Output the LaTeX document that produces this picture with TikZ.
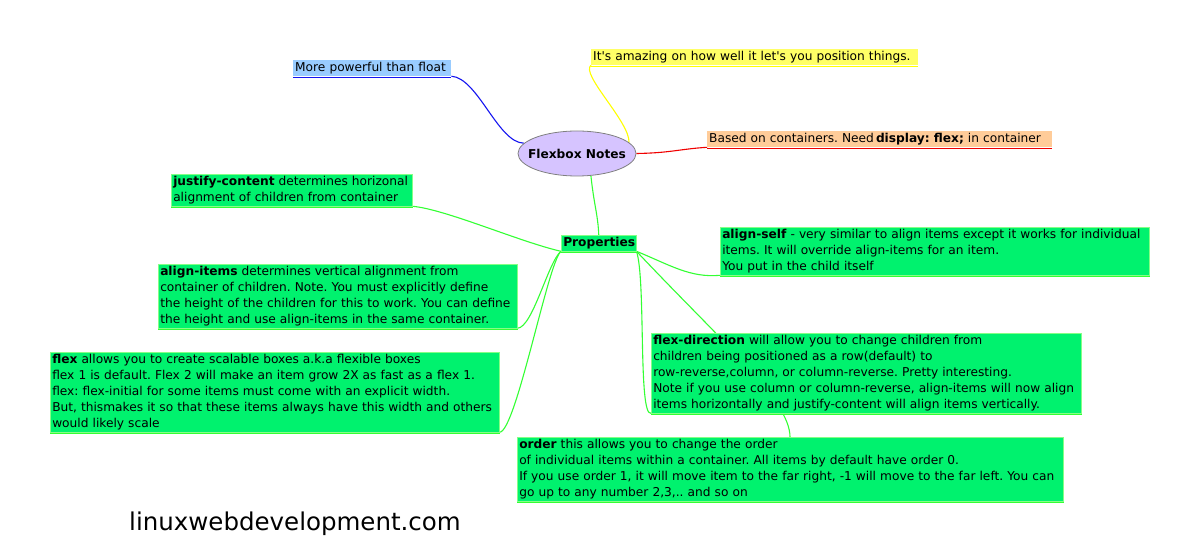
\documentclass[tikz,border=0pt]{standalone}
\usepackage{fontspec}
\setmainfont{DejaVu Sans}
\usetikzlibrary{shapes.geometric,calc}
\pgfdeclarelayer{bg}
\pgfsetlayers{bg,main}
\definecolor{boxgreen}{RGB}{0,242,110}
\definecolor{edgegreen}{RGB}{51,255,51}
\definecolor{floatblue}{RGB}{153,204,255}
\definecolor{linkblue}{RGB}{20,20,240}
\definecolor{amazyellow}{RGB}{255,255,102}
\definecolor{linkyellow}{RGB}{255,255,0}
\definecolor{basedorange}{RGB}{255,204,153}
\definecolor{linkred}{RGB}{240,0,0}
\definecolor{fnpurple}{RGB}{214,196,255}
\tikzset{
  txt/.style={font=\fontsize{12.2}{16}\selectfont\frenchspacing, inner xsep=2pt, inner ysep=2pt,
    anchor=north west, align=left, text width=#1},
  gbox/.style={txt=#1, fill=boxgreen, draw=edgegreen!60!white, line width=0.5pt},
  uline/.style={line width=1.3pt},
  conn/.style={line width=1.1pt},
  gconn/.style={conn, edgegreen},
}
\begin{document}
\begin{tikzpicture}[x=1pt,y=-1pt]
\useasboundingbox (0,0) rectangle (1200,553);

% central
\node[ellipse, fill=fnpurple, draw=gray, line width=0.8pt, minimum width=118pt,
  minimum height=45pt, inner sep=0pt, font=\fontsize{12.2}{16}\selectfont\bfseries] (fn) at (577,153.5) {\makebox[0pt]{Flexbox Notes}};

% top-level leaves
\node[txt=154pt, fill=floatblue] (float) at (293,60) {More powerful than float};
\node[txt=323pt, fill=amazyellow] (amaz) at (591,49) {It\textquotesingle s amazing on how well it let\textquotesingle s you position things.};
\node[txt=341pt, fill=basedorange] (based) at (707,131) {Based on containers. Need\,\textbf{display: flex;} in container};

% properties
\node[gbox=71pt, align=center] (props) at (561,235) {\textbf{Properties}};

% children
\node[gbox=237pt] (just) at (171,174) {\textbf{justify-content} determines horizonal\\alignment of children from container};
\node[gbox=355pt] (aitems) at (158,264) {\textbf{align-items} determines vertical alignment from\\container of children. Note. You must explicitly define\\the height of the children for this to work. You can define\\the height and use align-items in the same container.};
\node[gbox=445pt] (flex) at (50,352) {\textbf{flex} allows you to create scalable boxes a.k.a flexible boxes\\flex 1 is default. Flex 2 will make an item grow 2X as fast as a flex 1.\\flex: flex-initial for some items must come with an explicit width.\\But, thismakes it so that these items always have this width and others\\would likely scale};
\node[gbox=425pt] (aself) at (720,227) {\textbf{align-self} - very similar to align items except it works for individual\\items. It will override align-items for an item.\\You put in the child itself};
\node[gbox=426pt] (fdir) at (651,333) {\textbf{flex-direction} will allow you to change children from\\children being positioned as a row(default) to\\row-reverse,column, or column-reverse. Pretty interesting.\\Note if you use column or column-reverse, align-items will now align\\items horizontally and justify-content will align items vertically.};
\node[gbox=542pt] (order) at (517,437) {\textbf{order} this allows you to change the order\\of individual items within a container. All items by default have order 0.\\If you use order 1, it will move item to the far right, -1 will move to the far left. You can\\go up to any number 2,3,.. and so on};

\coordinate (ordtop) at ($(order.north west)+(273,0)$);

% website
\node[font=\fontsize{24.5}{28}\selectfont, inner sep=0pt] (site) at (295,524) {linuxwebdevelopment.com};

% underlines
\draw[uline, linkblue] ([yshift=-1pt]float.south west) -- ([yshift=-1pt]float.south east);
\draw[uline, linkyellow] ([yshift=-1pt]amaz.south west) -- ([yshift=-1pt]amaz.south east);
\draw[uline, linkred] ([yshift=-1pt]based.south west) -- ([yshift=-1pt]based.south east);
\foreach \n in {props,just,aitems,flex,aself,fdir,order}
  \draw[uline, edgegreen] ([yshift=-1pt]\n.south west) -- ([yshift=-1pt]\n.south east);

% connectors
\begin{pgfonlayer}{bg}
\draw[conn, linkblue] (float.south east) .. controls (478,78) and (498,143) .. (fn.169);
\draw[conn, linkyellow] (amaz.south west) .. controls (580,74) and (630,122) .. (fn.12);
\draw[conn, linkred] (fn.east) .. controls (670,153) and (680,149) .. (based.south west);
\draw[gconn] (fn.-58) .. controls (594,205) and (598,215) .. (props.north);
\draw[gconn] (just.south east) .. controls (445,209) and (520,242) .. (props.south west);
\draw[gconn] (aitems.south east) .. controls (533,327) and (548,262) .. (props.south west);
\draw[gconn] (flex.south east) .. controls (516,432) and (548,262) .. (props.south west);
\draw[gconn] (props.south east) .. controls (670,265) and (690,278) .. (aself.south west);
\draw[gconn] (props.south east) .. controls (646,280) and (638,416) .. (fdir.south west);
\draw[gconn] (props.south east) .. controls (720,340) and (790,400) .. (ordtop);
\end{pgfonlayer}
\end{tikzpicture}
\end{document}
